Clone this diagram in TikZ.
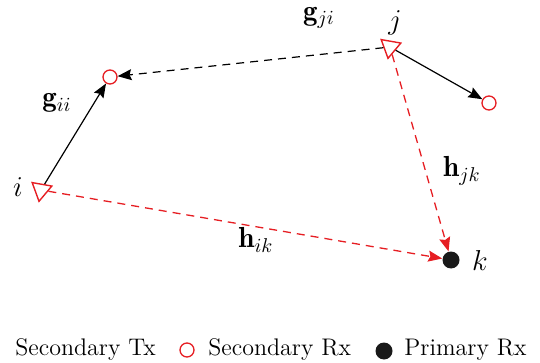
\documentclass[tikz,border=0pt]{standalone}
\usepackage{fontspec}
\usetikzlibrary{shapes.geometric,arrows.meta}
\definecolor{myred}{RGB}{230,30,35}
\definecolor{mydot}{RGB}{25,25,25}
\tikzset{
  txnode/.style={regular polygon,regular polygon sides=3,draw=myred,line width=0.7pt,inner sep=0pt,minimum size=11.5pt,shape border rotate=170},
  rxnode/.style={circle,draw=myred,line width=0.65pt,inner sep=0pt,minimum size=7pt},
  prnode/.style={circle,fill=mydot,inner sep=0pt,minimum size=8.5pt},
  lbl/.style={font=\fontsize{12}{14}\selectfont,inner sep=0pt},
  mlbl/.style={font=\fontsize{14.5}{17}\selectfont,inner sep=0pt},
  blkarrow/.style={line width=0.6pt,-{Stealth[length=7pt,width=5.5pt,inset=1pt]}},
  redarrow/.style={myred,line width=0.65pt,dash pattern=on 4pt off 3pt,-{Stealth[length=7pt,width=5.5pt,inset=1pt]}},
  blkdash/.style={line width=0.6pt,dash pattern=on 4pt off 3pt,-{Stealth[length=7pt,width=5.5pt,inset=1pt]}},
}
\begin{document}
\begin{tikzpicture}[x=0.5pt,y=-0.5pt]
\useasboundingbox (0,0) rectangle (540,363);
% nodes
\node[txnode] (ti) at (41,190) {};
\node[txnode] (tj) at (390,47) {};
\node[rxnode] (ri) at (110,77) {};
\node[rxnode] (rj) at (489,103) {};
\node[prnode] (pk) at (451,260) {};
% labels
\node[mlbl] (li) at (18,187) {$i$};
\node[mlbl] (lj) at (395,23) {$j$};
\node[mlbl] (lk) at (480,260) {$k$};
\node[mlbl] (lgii) at (57,103) {$\mathbf{g}_{ii}$};
\node[mlbl] (lgji) at (319,18) {$\mathbf{g}_{ji}$};
\node[mlbl] (lhjk) at (462,171) {$\mathbf{h}_{jk}$};
\node[mlbl] (lhik) at (256,240) {$\mathbf{h}_{ik}$};
% connectors
\draw[blkarrow] (ti) -- (ri);
\draw[blkdash] (tj) -- (ri);
\draw[blkarrow] (tj) -- (rj);
\draw[redarrow] (tj) -- (pk);
\draw[redarrow] (ti) -- (pk);
% legend
\node[lbl,anchor=base west] (leg1) at (15,355) {Secondary Tx};
\node[rxnode] (legc) at (187,350) {};
\node[lbl,anchor=base west] (leg2) at (208,355) {Secondary Rx};
\node[prnode] (legd) at (384,351) {};
\node[lbl,anchor=base west] (leg3) at (404,355) {Primary Rx};
\end{tikzpicture}
\end{document}
